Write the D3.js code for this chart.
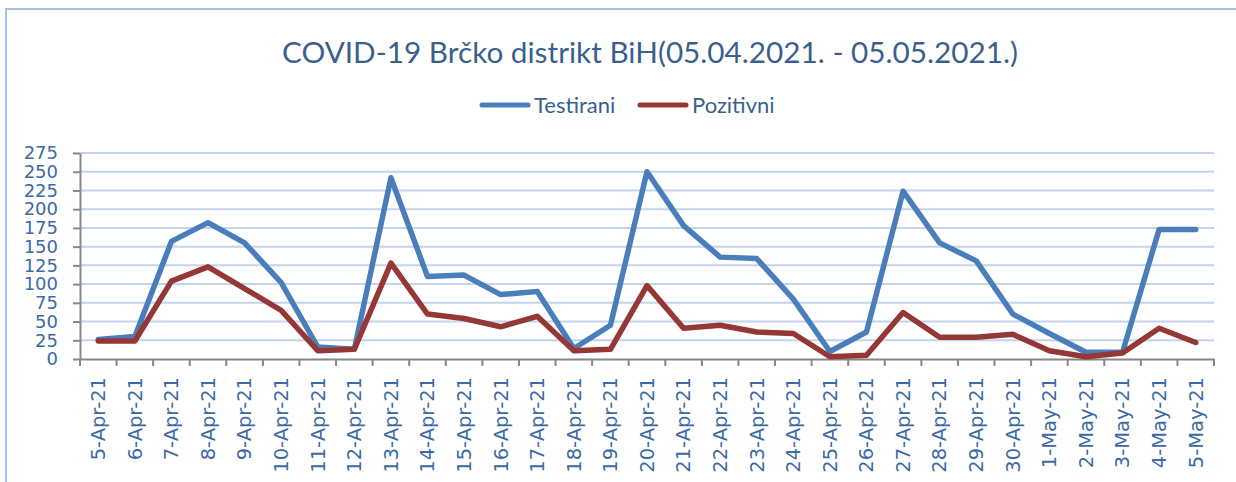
<!DOCTYPE html>
<html>
<head>
<meta charset="utf-8">
<script src="https://cdn.jsdelivr.net/npm/d3@7"></script>
<style>
  body { margin: 0; background: #fff; }
  text { fill: #3a639a; }
</style>
</head>
<body>
<script>
var width = 1236;
var height = 482;

var dates = ['5-Apr-21', '6-Apr-21', '7-Apr-21', '8-Apr-21', '9-Apr-21', '10-Apr-21',
    '11-Apr-21', '12-Apr-21', '13-Apr-21', '14-Apr-21', '15-Apr-21', '16-Apr-21',
    '17-Apr-21', '18-Apr-21', '19-Apr-21', '20-Apr-21', '21-Apr-21', '22-Apr-21',
    '23-Apr-21', '24-Apr-21', '25-Apr-21', '26-Apr-21', '27-Apr-21', '28-Apr-21',
    '29-Apr-21', '30-Apr-21', '1-May-21', '2-May-21', '3-May-21', '4-May-21', '5-May-21'];
var testirani = [26, 30, 157, 182, 155, 102, 16, 13, 242, 110, 112, 86, 90, 14, 45,
    250, 178, 136, 134, 80, 10, 36, 224, 155, 131, 60, 34, 9, 9, 173, 173];
var pozitivni = [24, 24, 104, 123, 94, 65, 11, 13, 128, 60, 54, 43, 57, 11, 13,
    98, 41, 45, 36, 34, 3, 5, 62, 29, 29, 33, 11, 3, 8, 41, 22];
var yTicks = d3.range(0, 276, 25);

var svg = d3.select('body').append('svg')
    .attr('width', width)
    .attr('height', height);

// chart frame (top and left edges only show)
svg.append('path')
    .attr('d', 'M6,482V9H1236')
    .attr('fill', 'none')
    .attr('stroke', '#a8c3ea')
    .attr('stroke-width', 2);

var x = d3.scaleBand().domain(dates).range([80, 1214]).padding(0);
var y = d3.scaleLinear().domain([0, 275]).range([359, 153]);

// title, stretched to the reference width
var title = svg.append('text')
    .attr('x', 650)
    .attr('y', 63)
    .attr('text-anchor', 'middle')
    .style('font-family', 'Lato')
    .style('font-size', '32px')
    .style('fill', '#3a5f8e')
    .text('COVID-19 Brčko distrikt BiH(05.04.2021. - 05.05.2021.)');
var tw = title.node().getComputedTextLength();
title.style('font-size', (32 * 736 / tw) + 'px');

// grid
svg.append('g').selectAll('line')
    .data(yTicks.filter(function(d) { return d > 0; }))
    .join('line')
    .attr('x1', 80).attr('x2', 1214)
    .attr('y1', function(d) { return y(d); })
    .attr('y2', function(d) { return y(d); })
    .attr('stroke', '#c3d4ea')
    .attr('stroke-width', 2);

// y axis
var yAxis = svg.append('g')
    .attr('transform', 'translate(80,0)')
    .call(d3.axisLeft(y).tickValues(yTicks).tickSize(7).tickSizeOuter(0));
yAxis.select('.domain').attr('stroke', '#878787').attr('stroke-width', 2);
yAxis.selectAll('.tick line').attr('stroke', '#878787').attr('stroke-width', 2);
yAxis.selectAll('.tick text')
    .attr('x', -22)
    .style('font-family', 'DejaVu Sans')
    .style('font-size', '18px')
    .style('fill', '#3c6aa5');

// x axis: labels from the axis, ticks at band edges
var xAxis = svg.append('g')
    .attr('transform', 'translate(0,359)')
    .call(d3.axisBottom(x).tickSize(0).tickSizeOuter(0));
xAxis.select('.domain').attr('stroke', '#878787').attr('stroke-width', 2);
xAxis.selectAll('.tick text')
    .attr('transform', 'rotate(-90)')
    .attr('x', -18)
    .attr('y', 0)
    .attr('dy', '0.35em')
    .style('text-anchor', 'end')
    .style('font-family', 'DejaVu Sans')
    .style('font-size', '19.5px')
    .style('fill', '#3c6aa5');

var edges = dates.map(function(d) { return x(d); }).concat([x.range()[1]]);
xAxis.append('g').selectAll('line')
    .data(edges)
    .join('line')
    .attr('x1', function(d) { return d; })
    .attr('x2', function(d) { return d; })
    .attr('y1', 0).attr('y2', 7)
    .attr('stroke', '#878787')
    .attr('stroke-width', 2);

// lines
var line = d3.line()
    .x(function(d, i) { return x(dates[i]) + x.bandwidth() / 2; })
    .y(function(d) { return y(d); });

var series = [
    { name: 'Testirani', values: testirani, color: '#4a7ebb' },
    { name: 'Pozitivni', values: pozitivni, color: '#953735' }
];

svg.append('g').selectAll('path')
    .data(series)
    .join('path')
    .attr('d', function(d) { return line(d.values); })
    .attr('fill', 'none')
    .attr('stroke', function(d) { return d.color; })
    .attr('stroke-width', 5.5)
    .attr('stroke-linejoin', 'round')
    .attr('stroke-linecap', 'round');

// legend
var legendX = [482, 640];
var legend = svg.append('g').selectAll('g')
    .data(series)
    .join('g')
    .attr('transform', function(d, i) { return 'translate(' + legendX[i] + ',105)'; });
legend.append('line')
    .attr('x1', 0).attr('x2', 46)
    .attr('stroke', function(d) { return d.color; })
    .attr('stroke-width', 5)
    .attr('stroke-linecap', 'round');
legend.append('text')
    .attr('x', 52)
    .attr('y', 8)
    .style('font-family', 'Lato')
    .style('font-size', '22px')
    .style('fill', '#3a5f8e')
    .text(function(d) { return d.name; });
</script>
</body>
</html>
